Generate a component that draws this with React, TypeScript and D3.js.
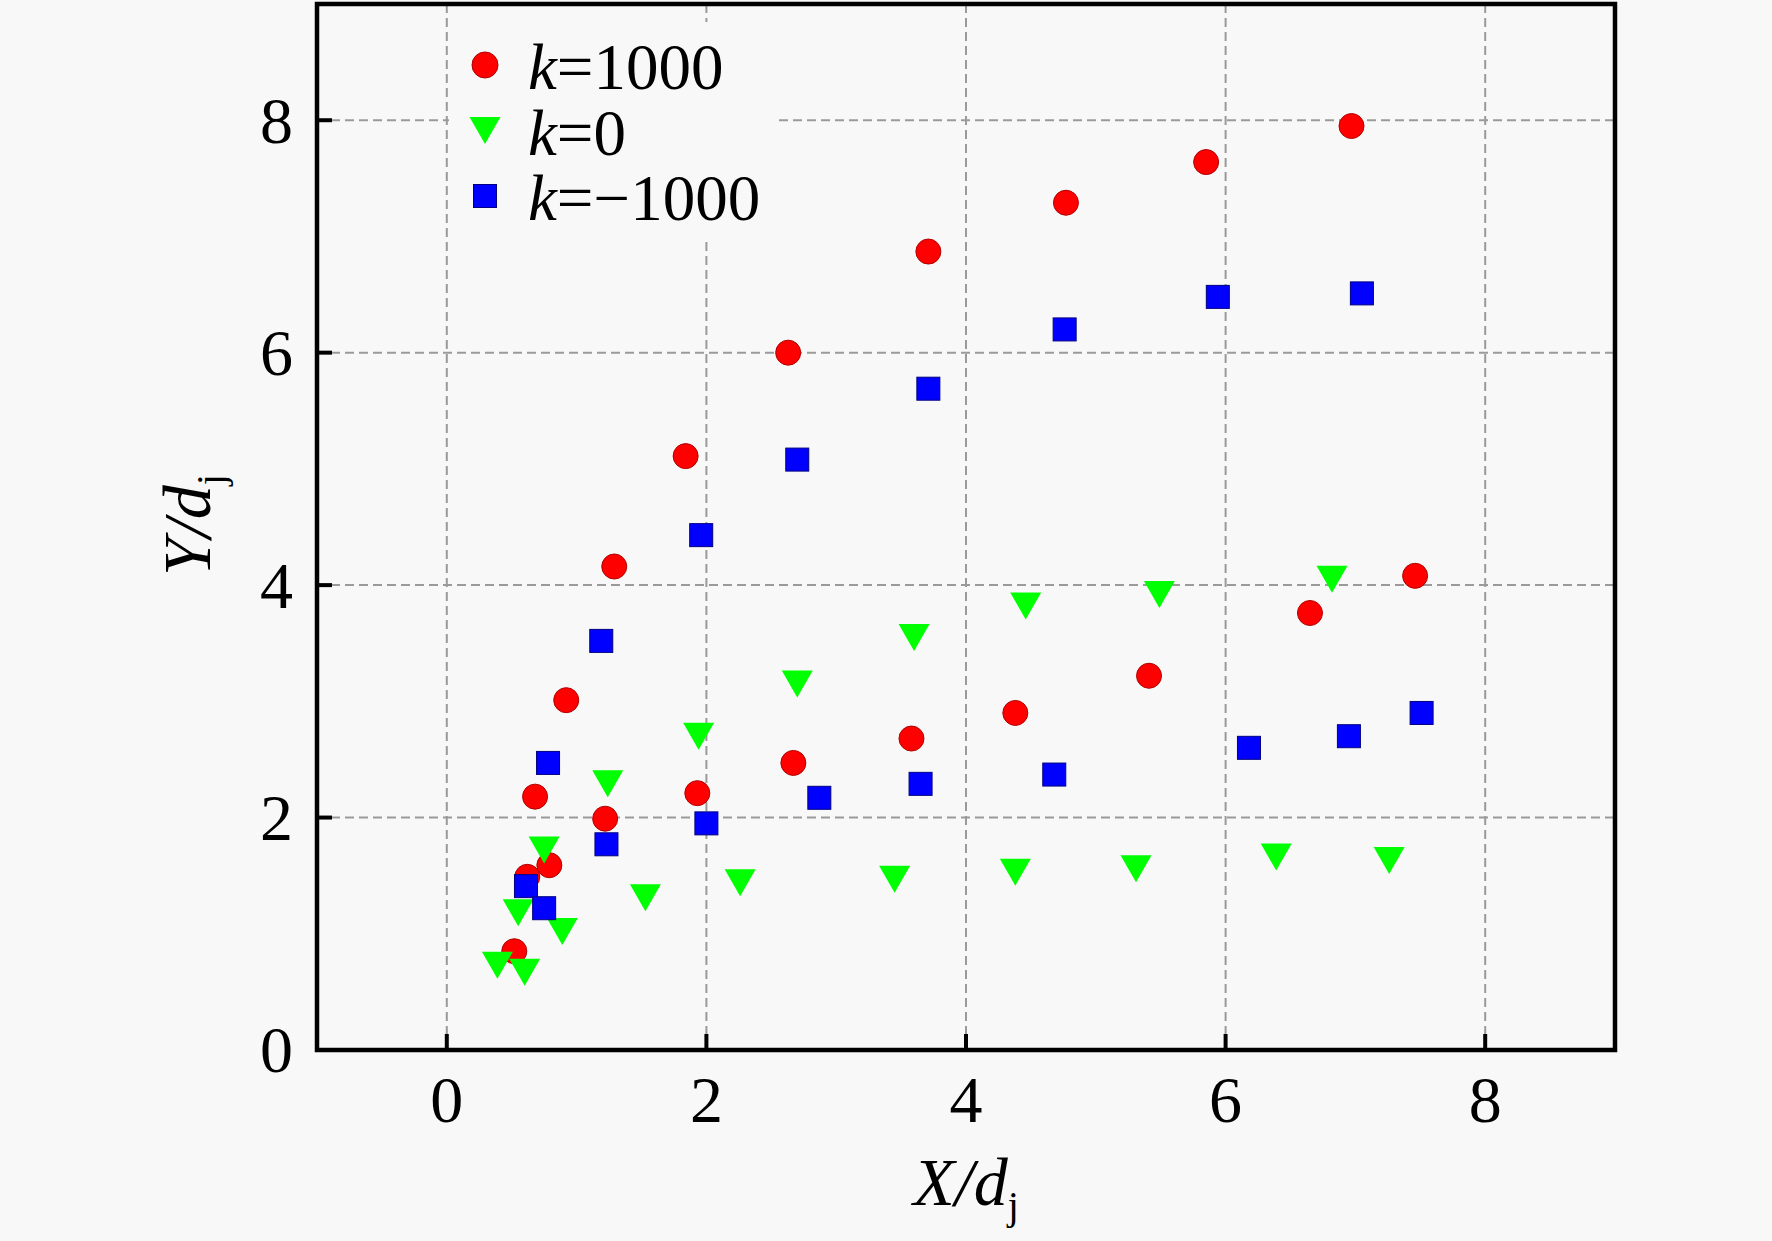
import React from 'react';
import * as d3 from 'd3';

// k = 1000 (red circles)
const redX = [0.52, 0.62, 0.79, 0.68, 0.92, 1.29, 1.84, 2.63, 3.71, 4.77, 5.85, 6.97,
  1.22, 1.93, 2.67, 3.58, 4.38, 5.41, 6.65, 7.46];
const redY = [0.85, 1.49, 1.59, 2.18, 3.01, 4.16, 5.11, 6.0, 6.87, 7.29, 7.64, 7.95,
  1.99, 2.21, 2.47, 2.68, 2.9, 3.22, 3.76, 4.08];

// k = 0 (green down triangles)
const greenX = [0.39, 0.6, 0.55, 0.75, 0.89, 1.24, 1.53, 1.94, 2.26, 2.7, 3.45, 3.6,
  4.38, 4.46, 5.31, 5.49, 6.39, 6.82, 7.26];
const greenY = [0.73, 0.67, 1.18, 1.72, 1.02, 2.29, 1.31, 2.7, 1.44, 3.15, 1.47, 3.55,
  1.53, 3.82, 1.56, 3.92, 1.66, 4.05, 1.63];

// k = -1000 (blue squares)
const blueX = [0.61, 0.75, 0.78, 1.23, 1.19, 1.96, 2.0, 2.7, 2.87, 3.71, 3.65, 4.76,
  4.68, 5.94, 6.18, 7.05, 6.95, 7.51];
const blueY = [1.41, 1.22, 2.47, 1.77, 3.52, 4.43, 1.95, 5.08, 2.17, 5.69, 2.29, 6.2,
  2.37, 6.48, 2.6, 6.51, 2.7, 2.9];

const xTicks = [0, 2, 4, 6, 8];
const yTicks = [0, 2, 4, 6, 8];
const legendLabels = ['1000', '0', '\u22121000'];

const W = 1772;
const H = 1241;
const BG = '#f8f8f8';
const FONT = "'Liberation Serif', 'Times New Roman', Times, serif";

const App: React.FC = () => {
  const x = d3.scaleLinear().domain([-1, 9]).range([317, 1615]);
  const y = d3.scaleLinear().domain([0, 9]).range([1050, 4]);

  const red = redX.map((v, i) => ({ x: v, y: redY[i] }));
  const green = greenX.map((v, i) => ({ x: v, y: greenY[i] }));
  const blue = blueX.map((v, i) => ({ x: v, y: blueY[i] }));

  const tri = (cx: number, cy: number, w = 31, h = 27) =>
    `M${cx - w / 2},${cy - h / 2}L${cx + w / 2},${cy - h / 2}L${cx},${cy + h / 2}Z`;

  const [x0, x1] = x.range();
  const [y0, y1] = y.range();

  const legendMarker = (i: number, cx: number, cy: number) => {
    if (i === 0) return <circle cx={cx} cy={cy} r={13} fill="#ff0000" stroke="#b00000" strokeWidth={1} />;
    if (i === 1) return <path d={tri(cx, cy)} fill="#00ff00" />;
    return <rect x={cx - 11.5} y={cy - 11.5} width={23} height={23} fill="#0000ff" stroke="#000080" strokeWidth={1} />;
  };

  return (
    <svg width={W} height={H} style={{ position: 'absolute', left: 0, top: 0 }}>
      <rect width={W} height={H} fill={BG} />

      {/* grid */}
      <g stroke="#9a9a9a" strokeWidth={2} strokeDasharray="9,5">
        {xTicks.map((t) => (
          <line key={'gx' + t} x1={x(t)} x2={x(t)} y1={y1} y2={y0} />
        ))}
        {yTicks.filter((t) => t > 0).map((t) => (
          <line key={'gy' + t} x1={x0} x2={x1} y1={y(t)} y2={y(t)} />
        ))}
      </g>
      {/* legend backdrop hides the grid behind it */}
      <rect x={449} y={22} width={328} height={215} fill={BG} />

      {/* points */}
      {red.map((d, i) => (
        <circle key={'r' + i} cx={x(d.x)} cy={y(d.y)} r={12.5} fill="#ff0000" stroke="#b00000" strokeWidth={1} />
      ))}
      {green.map((d, i) => (
        <path key={'g' + i} d={tri(x(d.x), y(d.y))} fill="#00ff00" />
      ))}
      {blue.map((d, i) => (
        <rect key={'b' + i} x={x(d.x) - 11.5} y={y(d.y) - 11.5} width={23} height={23} fill="#0000ff" stroke="#000080" strokeWidth={1} />
      ))}

      {/* frame and ticks */}
      <rect x={x0} y={y1} width={x1 - x0} height={y0 - y1} fill="none" stroke="#000" strokeWidth={4.5} />
      <g stroke="#000" strokeWidth={4}>
        {xTicks.map((t) => (
          <line key={'tx' + t} x1={x(t)} x2={x(t)} y1={y0} y2={y0 - 16} />
        ))}
        {yTicks.map((t) => (
          <line key={'ty' + t} x1={x0} x2={x0 + 15} y1={y(t)} y2={y(t)} />
        ))}
      </g>

      {/* tick labels */}
      <g fontFamily={FONT} fontSize={66} fill="#000">
        {xTicks.map((t) => (
          <text key={'lx' + t} x={x(t)} y={y0 + 72} textAnchor="middle">{t}</text>
        ))}
        {yTicks.map((t) => (
          <text key={'ly' + t} x={293} y={y(t)} dy="0.34em" textAnchor="end">{t}</text>
        ))}
      </g>

      {/* axis titles */}
      <text x={966} y={1205} fontFamily={FONT} fontSize={68} textAnchor="middle">
        <tspan fontStyle="italic">X/d</tspan>
        <tspan fontSize={40} dy={14}>j</tspan>
      </text>
      <text transform="translate(210,525) rotate(-90)" fontFamily={FONT} fontSize={68} textAnchor="middle">
        <tspan fontStyle="italic">Y/d</tspan>
        <tspan fontSize={40} dy={14}>j</tspan>
      </text>

      {/* legend */}
      {legendLabels.map((lab, i) => {
        const base = 89 + i * 65.5;
        return (
          <g key={'lg' + i}>
            {legendMarker(i, 485, base - 24)}
            <text x={528} y={base} fontFamily={FONT} fontSize={65}>
              <tspan fontStyle="italic">k</tspan>
              <tspan>={lab}</tspan>
            </text>
          </g>
        );
      })}
    </svg>
  );
};

export default App;
